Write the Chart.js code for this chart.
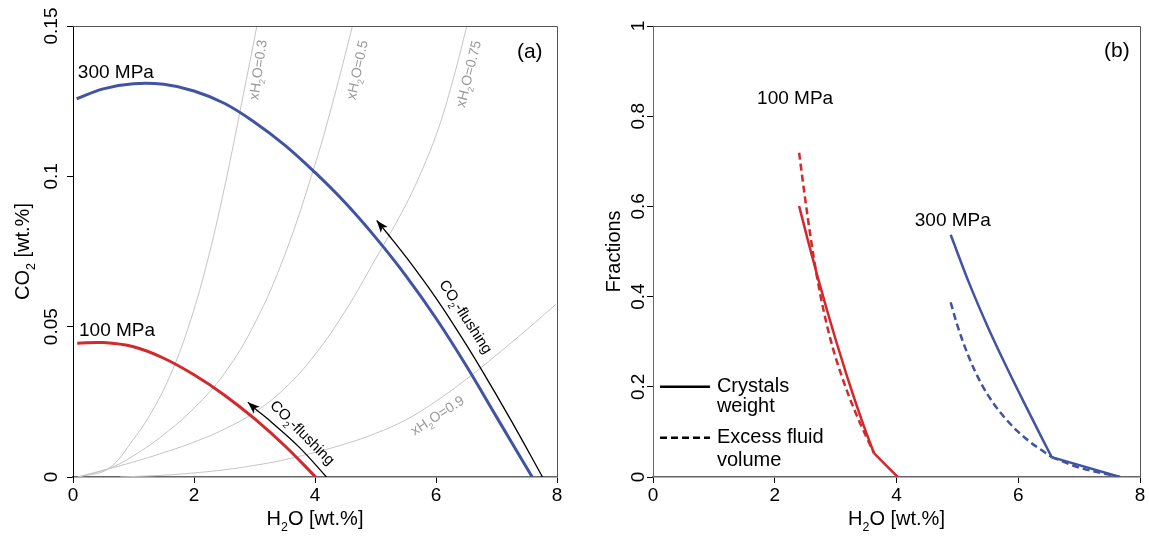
<!DOCTYPE html>
<html><head><meta charset="utf-8">
<script src="https://cdn.jsdelivr.net/npm/chart.js@4.4.1/dist/chart.umd.min.js"></script>
<style>
html,body{margin:0;padding:0;background:#fff;}
#wrap{position:relative;width:1149px;height:537px;overflow:hidden;}
#c1{position:absolute;left:0;top:0;}
#c2{position:absolute;left:575px;top:0;}
</style></head><body>
<div id="wrap"><canvas id="c1" width="575" height="537"></canvas><canvas id="c2" width="574" height="537"></canvas></div>
<script>
// ---------- Panel (a) data ----------
const xTicksA = [0, 2, 4, 6, 8];
const yTicksA = [0, 0.05, 0.1, 0.15];
const h2o_100 = [0.07, 0.5, 1.0, 1.5, 2.0, 2.5, 3.0, 3.5, 4.01];
const co2_100 = [0.0445, 0.0447, 0.0433, 0.0395, 0.0340, 0.0273, 0.0194, 0.0104, 0];
const h2o_300 = [0.06, 0.5, 1.0, 1.5, 2.0, 2.5, 3.0, 3.5, 4.0, 4.5, 5.0, 5.5, 6.0, 6.5, 7.0, 7.59];
const co2_300 = [0.1258, 0.1291, 0.1308, 0.1306, 0.1284, 0.1243, 0.1180, 0.1104, 0.1013, 0.0912, 0.0797, 0.0670, 0.0528, 0.0370, 0.0200, 0];
const flush300_h = [5.02, 5.2, 5.5, 6.0, 6.4, 6.72, 7.25, 7.76];
const flush300_c = [0.0853, 0.0809, 0.0733, 0.0595, 0.0472, 0.0368, 0.0185, 0];
const flush100_h = [2.89, 3.0, 3.3, 3.75, 4.19];
const flush100_c = [0.0249, 0.0229, 0.0179, 0.0097, 0];
const x03_h = [0.08, 0.58, 1.0, 1.3, 1.6, 1.9, 2.2, 2.5, 2.8, 3.04];
const x03_c = [0, 0.0027, 0.0126, 0.0216, 0.0335, 0.0494, 0.0701, 0.0959, 0.1256, 0.15];
const x05_h = [0.08, 0.58, 1.0, 1.5, 2.0, 2.5, 3.0, 3.5, 4.0, 4.3, 4.62];
const x05_c = [0, 0.0027, 0.0071, 0.0141, 0.0229, 0.0344, 0.0509, 0.0739, 0.1039, 0.1251, 0.15];
const x075_h = [0.08, 0.58, 1.0, 1.5, 2.0, 2.5, 3.0, 3.5, 4.0, 4.5, 5.0, 5.5, 5.8, 6.05, 6.3, 6.51];
const x075_c = [0, 0.0027, 0.005, 0.0081, 0.0116, 0.0159, 0.0215, 0.0295, 0.0407, 0.0552, 0.0725, 0.0905, 0.1035, 0.1165, 0.1335, 0.15];
const x09_h = [0.78, 1.5, 2.0, 2.5, 3.0, 3.5, 4.0, 4.5, 5.0, 5.5, 6.0, 6.5, 7.0, 7.5, 7.98];
const x09_c = [0, 0.0006, 0.00135, 0.0024, 0.00385, 0.00575, 0.0082, 0.011, 0.0145, 0.019, 0.0252, 0.0325, 0.0406, 0.049, 0.0574];

// ---------- Panel (b) data ----------
const xTicksB = [0, 2, 4, 6, 8];
const yTicksB = [0, 0.2, 0.4, 0.6, 0.8, 1];
const cry100_h = [2.40, 2.55, 2.70, 2.85, 3.0, 3.18, 3.35, 3.50, 3.63];
const cry100_f = [0.601, 0.5218, 0.446, 0.3737, 0.3049, 0.2264, 0.1569, 0.0994, 0.053];
const tail100_h = [3.63, 4.02];
const tail100_f = [0.053, 0];
const flu100_h = [2.40, 2.5, 2.6, 2.7, 2.8, 2.9, 3.0, 3.2, 3.4, 3.63];
const flu100_f = [0.719, 0.6165, 0.5215, 0.439, 0.3705, 0.313, 0.265, 0.186, 0.12, 0.053];
const cry300_h = [4.89, 5.2, 5.5, 5.8, 6.1, 6.4, 6.55];
const cry300_f = [0.537, 0.4276, 0.3327, 0.246, 0.1637, 0.0835, 0.044];
const tail300c_h = [6.55, 7.67];
const tail300c_f = [0.044, 0];
const flu300_h = [4.89, 5.0, 5.2, 5.4, 5.6, 5.8, 6.0, 6.2, 6.4, 6.55];
const flu300_f = [0.387, 0.336, 0.262, 0.205, 0.162, 0.128, 0.100, 0.077, 0.058, 0.044];
const tail300f_h = [6.55, 7.0, 7.67];
const tail300f_f = [0.044, 0.021, 0];

const BLUE = '#4153a3';
const RED = '#d3282c';
const GRAY = '#c4c4c4';
const FONT = '"Liberation Sans", Arial, Helvetica, sans-serif';
Chart.defaults.font.family = FONT;

function zip(xs, ys) { return xs.map((x, i) => ({x: x, y: ys[i]})); }

function drawRich(ctx, parts, x, y, rot, size, color, align) {
  ctx.save();
  ctx.translate(x, y);
  ctx.rotate(rot * Math.PI / 180);
  ctx.fillStyle = color;
  ctx.textBaseline = 'alphabetic';
  ctx.textAlign = 'left';
  let total = 0;
  const ws = parts.map(p => {
    ctx.font = (p[1] ? size * 0.62 : size) + 'px ' + FONT;
    const w = ctx.measureText(p[0]).width;
    total += w;
    return w;
  });
  let cx = align === 'center' ? -total / 2 : 0;
  const base = align === 'center' ? size * 0.36 : 0;
  parts.forEach((p, i) => {
    ctx.font = (p[1] ? size * 0.62 : size) + 'px ' + FONT;
    ctx.fillText(p[0], cx, base + (p[1] ? size * 0.3 : 0));
    cx += ws[i];
  });
  ctx.restore();
}

const framePlugin = {
  id: 'frame',
  afterDraw(chart) {
    const {ctx, chartArea: a} = chart;
    ctx.save();
    ctx.strokeStyle = '#555';
    ctx.lineWidth = 1;
    ctx.beginPath();
    ctx.moveTo(a.left, a.top + 0.5);
    ctx.lineTo(a.right + 0.5, a.top + 0.5);
    ctx.lineTo(a.right + 0.5, a.bottom);
    ctx.stroke();
    ctx.restore();
  }
};

const annotPlugin = {
  id: 'annot',
  afterDatasetsDraw(chart, args, opts) {
    const {ctx} = chart;
    const sx = chart.scales.x, sy = chart.scales.y;
    chart.data.datasets.forEach((ds, i) => {
      if (!ds.arrow) return;
      const m = chart.getDatasetMeta(i);
      const p0 = m.data[0], p1 = m.data[1];
      const ang = Math.atan2(p0.y - p1.y, p0.x - p1.x);
      ctx.save();
      ctx.translate(p0.x, p0.y);
      ctx.rotate(ang);
      ctx.fillStyle = '#000';
      ctx.beginPath();
      ctx.moveTo(0, 0);
      ctx.lineTo(-12, -4.5);
      ctx.lineTo(-9, 0);
      ctx.lineTo(-12, 4.5);
      ctx.closePath();
      ctx.fill();
      ctx.restore();
    });
    (opts.texts || []).forEach(t => {
      drawRich(ctx, t.parts, sx.getPixelForValue(t.x), sy.getPixelForValue(t.y), t.rot || 0, t.size, t.color || '#000', t.align || 'left');
    });
    (opts.lines || []).forEach(l => {
      ctx.save();
      ctx.strokeStyle = '#000';
      ctx.lineWidth = 2.5;
      ctx.setLineDash(l.dash || []);
      ctx.beginPath();
      ctx.moveTo(sx.getPixelForValue(l.x0), sy.getPixelForValue(l.y));
      ctx.lineTo(sx.getPixelForValue(l.x1), sy.getPixelForValue(l.y));
      ctx.stroke();
      ctx.restore();
    });
  },
  afterDraw(chart, args, opts) {
    const {ctx, chartArea: a} = chart;
    if (opts.xTitle) drawRich(ctx, opts.xTitle, (a.left + a.right) / 2, opts.xTitleY, 0, 20, '#000', 'center');
    if (opts.yTitle) drawRich(ctx, opts.yTitle, opts.yTitleX, (a.top + a.bottom) / 2, -90, 20, '#000', 'center');
  }
};

function lineDs(xs, ys, color, width, extra) {
  return Object.assign({data: zip(xs, ys), borderColor: color, borderWidth: width, pointRadius: 0,
    fill: false, cubicInterpolationMode: 'monotone', borderCapStyle: 'butt'}, extra || {});
}
function smoothDs(xs, ys, color, width, extra) {
  return lineDs(xs, ys, color, width, Object.assign({cubicInterpolationMode: 'default', tension: 0.4}, extra || {}));
}

function axes(xTicks, yTicks, yMax, yWidth, yPad, yBorder) {
  return {
    x: {type: 'linear', min: 0, max: 8,
      afterBuildTicks: s => { s.ticks = xTicks.map(v => ({value: v})); },
      ticks: {font: {size: 19}, color: '#000', padding: 1, maxRotation: 0},
      grid: {drawOnChartArea: false, tickLength: 6, tickColor: '#000', tickWidth: 1},
      border: {color: '#666', width: 1.5},
      afterFit: s => { s.height = 60; }},
    y: {type: 'linear', min: 0, max: yMax,
      afterBuildTicks: s => { s.ticks = yTicks.map(v => ({value: v})); },
      ticks: {font: {size: 19}, color: '#000', minRotation: 90, maxRotation: 90, crossAlign: 'center', padding: yPad,
        callback: v => String(v)},
      grid: {drawOnChartArea: false, tickLength: 6, tickColor: '#000', tickWidth: 1},
      border: {color: yBorder, width: 1},
      afterFit: s => { s.width = yWidth; }}
  };
}

const GL = 14, GC = '#9a9a9a';
new Chart(document.getElementById('c1'), {
  type: 'line',
  data: {datasets: [
    smoothDs(h2o_300, co2_300, BLUE, 3),
    smoothDs(h2o_100, co2_100, RED, 3),
    smoothDs(flush300_h, flush300_c, '#000', 1.3, {arrow: true}),
    smoothDs(flush100_h, flush100_c, '#000', 1.3, {arrow: true}),
    smoothDs(x03_h, x03_c, GRAY, 1),
    smoothDs(x05_h, x05_c, GRAY, 1),
    smoothDs(x075_h, x075_c, GRAY, 1),
    smoothDs(x09_h, x09_c, GRAY, 1)
  ]},
  options: {
    responsive: false, animation: false, devicePixelRatio: 1,
    layout: {padding: {left: 0, right: 18, top: 26, bottom: 0}},
    scales: axes(xTicksA, yTicksA, 0.15, 73, -3, '#000'),
    plugins: {legend: {display: false}, tooltip: {enabled: false},
      annot: {
        xTitle: [['H', 0], ['2', 1], ['O [wt.%]', 0]], xTitleY: 518,
        yTitle: [['CO', 0], ['2', 1], [' [wt.%]', 0]], yTitleX: 22,
        texts: [
          {parts: [['300 MPa', 0]], x: 0.08, y: 0.1328, size: 19},
          {parts: [['100 MPa', 0]], x: 0.1, y: 0.0468, size: 19},
          {parts: [['(a)', 0]], x: 7.55, y: 0.142, size: 21, align: 'center'},
          {parts: [['xH', 0], ['2', 1], ['O=0.3', 0]], x: 3.05, y: 0.1354, size: GL, color: GC, rot: -82, align: 'center'},
          {parts: [['xH', 0], ['2', 1], ['O=0.5', 0]], x: 4.69, y: 0.1354, size: GL, color: GC, rot: -78, align: 'center'},
          {parts: [['xH', 0], ['2', 1], ['O=0.75', 0]], x: 6.53, y: 0.1341, size: GL, color: GC, rot: -76, align: 'center'},
          {parts: [['xH', 0], ['2', 1], ['O=0.9', 0]], x: 6.02, y: 0.0206, size: GL, color: GC, rot: -33, align: 'center'},
          {parts: [['CO', 0], ['2', 1], ['-flushing', 0]], x: 6.5, y: 0.0534, size: 15, rot: 57, align: 'center'},
          {parts: [['CO', 0], ['2', 1], ['-flushing', 0]], x: 3.8, y: 0.0149, size: 15, rot: 45, align: 'center'}
        ]
      }
    }
  },
  plugins: [framePlugin, annotPlugin]
});

new Chart(document.getElementById('c2'), {
  type: 'line',
  data: {datasets: [
    lineDs(cry100_h, cry100_f, RED, 2.5),
    lineDs(tail100_h, tail100_f, RED, 2.5),
    lineDs(flu100_h, flu100_f, RED, 2.5, {borderDash: [7, 4]}),
    lineDs(cry300_h, cry300_f, BLUE, 2.5),
    lineDs(tail300c_h, tail300c_f, BLUE, 2.5),
    lineDs(flu300_h, flu300_f, BLUE, 2.5, {borderDash: [7, 4]}),
    lineDs(tail300f_h, tail300f_f, BLUE, 2.5, {borderDash: [7, 4]})
  ]},
  options: {
    responsive: false, animation: false, devicePixelRatio: 1,
    layout: {padding: {left: 0, right: 9, top: 26, bottom: 0}},
    scales: axes(xTicksB, yTicksB, 1, 78, -5, '#666'),
    plugins: {legend: {display: false}, tooltip: {enabled: false},
      annot: {
        xTitle: [['H', 0], ['2', 1], ['O [wt.%]', 0]], xTitleY: 518,
        yTitle: [['Fractions', 0]], yTitleX: 38,
        texts: [
          {parts: [['(b)', 0]], x: 7.62, y: 0.949, size: 21, align: 'center'},
          {parts: [['100 MPa', 0]], x: 1.71, y: 0.826, size: 19},
          {parts: [['300 MPa', 0]], x: 4.30, y: 0.557, size: 19},
          {parts: [['Crystals', 0]], x: 1.05, y: 0.189, size: 20},
          {parts: [['weight', 0]], x: 1.05, y: 0.145, size: 20},
          {parts: [['Excess fluid', 0]], x: 1.05, y: 0.0757, size: 20},
          {parts: [['volume', 0]], x: 1.05, y: 0.0245, size: 20}
        ],
        lines: [
          {x0: 0.115, x1: 0.936, y: 0.2},
          {x0: 0.115, x1: 0.936, y: 0.087, dash: [7, 4]}
        ]
      }
    }
  },
  plugins: [framePlugin, annotPlugin]
});
</script>
</body></html>
